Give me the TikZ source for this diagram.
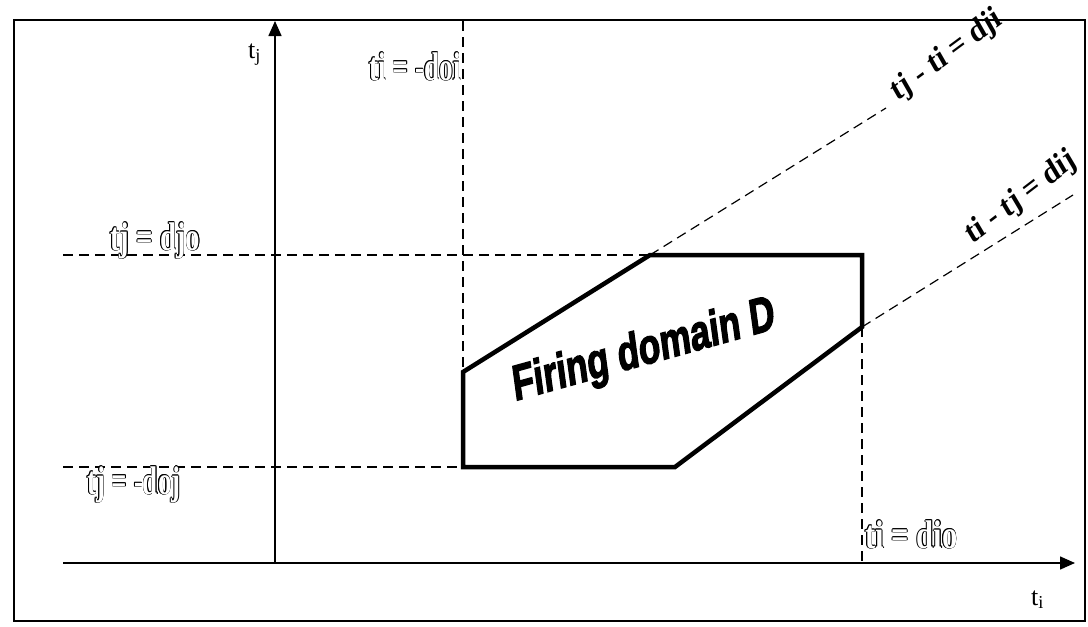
\documentclass[tikz,border=0pt]{standalone}
\usepackage{fontspec}
\setmainfont{Liberation Serif}
\newfontfamily\firingfont{Liberation Sans Bold}[FakeBold=3]
\usetikzlibrary{arrows.meta}
\newcommand\hollowtxt[1]{{\setbox0\hbox{#1}%
  \rlap{\kern.9pt\copy0}\rlap{\kern-.9pt\copy0}%
  \rlap{\raise.9pt\copy0}\rlap{\lower.9pt\copy0}%
  \rlap{\kern.65pt\raise.65pt\copy0}\rlap{\kern-.65pt\raise.65pt\copy0}%
  \rlap{\kern.65pt\lower.65pt\copy0}\rlap{\kern-.65pt\lower.65pt\copy0}%
  {\color{white}\copy0}}}
\tikzset{
  frame/.style={line width=1.2pt},
  axis/.style={line width=1.5pt, -{Triangle[length=15pt,width=13pt]}},
  guide/.style={line width=1.2pt, dash pattern=on 10pt off 6pt},
  domainline/.style={line width=4.5pt, line join=miter},
  eqlabel/.style={inner sep=0pt, anchor=base west, font=\bfseries\fontsize{40}{40}\selectfont},
  diaglabel/.style={inner sep=0pt, font=\bfseries\fontsize{33}{33}\selectfont},
  axislabel/.style={inner sep=0pt, anchor=base west, font=\fontsize{26}{26}\selectfont},
  domainlabel/.style={inner sep=0pt, font=\firingfont\fontsize{50}{50}\selectfont},
}
\begin{document}
\begin{tikzpicture}[x=1pt,y=-1pt]
\useasboundingbox (0,0) rectangle (1088,627);
% frame
\draw[frame] (14,20) rectangle (1085,621);
% coordinates
\coordinate (xstart) at (63,563);
\coordinate (xend) at (1075,563);
\coordinate (ybot) at (275,563);
\coordinate (ytop) at (275,21);
\coordinate (A) at (463,467);
\coordinate (B) at (463,372);
\coordinate (C) at (650,255);
\coordinate (Dv) at (862,255);
\coordinate (E) at (862,327);
\coordinate (F) at (675,467);
\coordinate (djoL) at (63,255);
\coordinate (dojL) at (63,467);
\coordinate (doiT) at (463,21);
\coordinate (dioB) at (862,563);
\coordinate (djiEnd) at (886,108);
\coordinate (dijEnd) at (1073,195);
% guides
\draw[guide] (djoL) -- (C);
\draw[guide] (dojL) -- (A);
\draw[guide] (doiT) -- (B);
\draw[guide] (E) -- (dioB);
\draw[guide] (C) -- (djiEnd);
\draw[guide] (E) -- (dijEnd);
% axes
\draw[axis] (xstart) -- (xend);
\draw[axis] (ybot) -- (ytop);
% domain
\draw[domainline] (A) -- (B) -- (C) -- (Dv) -- (E) -- (F) -- cycle;
% labels
\node[eqlabel, xscale=.72] (ldjo) at (110,250) {\hollowtxt{tj = djo}};
\node[eqlabel, xscale=.675] (ldoj) at (87,494) {\hollowtxt{tj = -doj}};
\node[eqlabel, xscale=.684] (ldoi) at (369,80) {\hollowtxt{ti = -doi}};
\node[eqlabel, xscale=.765] (ldio) at (865,548) {\hollowtxt{ti = dio}};
\node[diaglabel, xscale=.88, rotate=33] (ldji) at (947,56) {tj - ti = dji};
\node[diaglabel, xscale=.88, rotate=34] (ldij) at (1021,198) {ti - tj = dij};
\node[axislabel] (ltj) at (248,58) {t\textsubscript{j}};
\node[axislabel] (lti) at (1031,605) {t\textsubscript{i}};
\node[domainlabel, xscale=.7, rotate=11] (ldom) at (644,352) {Firing domain D};
\end{tikzpicture}
\end{document}
